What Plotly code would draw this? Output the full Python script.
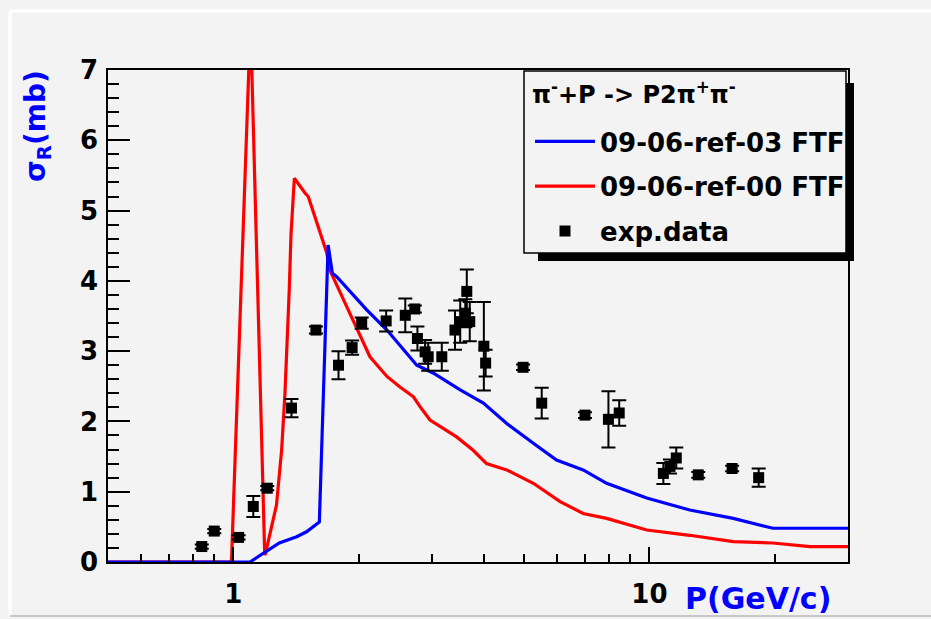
import plotly.graph_objects as go

# ---------------- data ----------------
red_x = [0.5, 0.99, 1.10, 1.19, 1.195, 1.27, 1.307, 1.331, 1.348, 1.363, 1.376, 1.402,
         1.487, 1.514, 1.61, 1.677, 1.707, 1.908, 2.13, 2.34, 2.515, 2.71, 2.81, 2.97,
         3.44, 3.77, 4.06, 4.54, 5.26, 6.1, 6.93, 7.89, 9.85, 12.5, 15.9, 19.8, 24.3, 30.0]
red_y = [0.0, 0.0, 7.7, 0.1, 0.12, 0.81, 1.6, 2.4, 3.1, 3.87, 4.65, 5.46,
         5.25, 5.2, 4.72, 4.4, 4.15, 3.54, 2.92, 2.64, 2.49, 2.35, 2.21, 2.02,
         1.78, 1.59, 1.40, 1.31, 1.12, 0.86, 0.69, 0.62, 0.455, 0.38, 0.29, 0.27, 0.22, 0.22]

blue_x = [0.5, 1.097, 1.29, 1.42, 1.50, 1.61, 1.69, 1.73, 1.772, 2.09, 2.34, 2.76, 3.02,
          3.51, 3.99, 4.54, 5.26, 5.98, 6.93, 7.89, 9.85, 12.5, 15.9, 19.8, 30.0]
blue_y = [0.0, 0.0, 0.27, 0.36, 0.43, 0.57, 4.51, 4.11, 4.06, 3.59, 3.30, 2.80, 2.69,
          2.45, 2.26, 1.97, 1.69, 1.45, 1.31, 1.12, 0.91, 0.74, 0.62, 0.48, 0.48]

exp_x = [0.84, 0.90, 1.03, 1.117, 1.207, 1.38, 1.58, 1.79, 1.93, 2.035, 2.33, 2.59, 2.73,
         2.77, 2.89, 2.94, 3.17, 3.41, 3.51, 3.61, 3.64, 3.70, 4.00, 4.04, 4.97, 5.51,
         7.0, 7.97, 8.46, 10.8, 11.2, 11.6, 13.1, 15.8, 18.3]
exp_y = [0.22, 0.44, 0.35, 0.79, 1.05, 2.19, 3.30, 2.80, 3.05, 3.40, 3.43, 3.51, 3.60,
         3.18, 2.99, 2.92, 2.92, 3.30, 3.42, 3.54, 3.85, 3.42, 3.07, 2.83, 2.77, 2.26,
         2.09, 2.03, 2.12, 1.26, 1.36, 1.48, 1.24, 1.33, 1.20]
exp_err = [0.03, 0.03, 0.03, 0.15, 0.03, 0.13, 0.05, 0.2, 0.1, 0.08, 0.15, 0.24, 0.05,
           0.17, 0.17, 0.2, 0.2, 0.28, 0.3, 0.2, 0.31, 0.28, 0.63, 0.19, 0.04, 0.22,
           0.04, 0.4, 0.18, 0.15, 0.1, 0.15, 0.04, 0.04, 0.13]

x_major_ticks = [1, 10]
x_major_labels = ["1", "10"]
x_minor_ticks = [0.6, 0.7, 0.8, 0.9, 2, 3, 4, 5, 6, 7, 8, 9, 20, 30]

legend_header = "<b>π<sup>-</sup>+P -> P2π<sup>+</sup>π<sup>-</sup></b>"

# ---------------- figure ----------------
BG = "#f3f3f3"
FONT = "DejaVu Sans"
W, H = 931, 619
L, R, T, B = 108, 83, 70, 57
PW, PH = W - L - R, H - T - B


def px2paper(px, py):
    return (px - L) / PW, (H - B - py) / PH


fig = go.Figure()
fig.add_trace(go.Scatter(x=red_x, y=red_y, mode="lines", name="<b>09-06-ref-00 FTF</b>",
                         line=dict(color="#ff0000", width=3.2), legendrank=2, legendgroup="r"))
fig.add_trace(go.Scatter(x=blue_x, y=blue_y, mode="lines", name="<b>09-06-ref-03 FTF</b>",
                         line=dict(color="#0000ff", width=3.2), legendrank=1, legendgroup="b"))
fig.add_trace(go.Scatter(x=exp_x, y=exp_y, mode="markers", name="<b>exp.data</b>",
                         marker=dict(symbol="square", size=11, color="black"),
                         error_y=dict(type="data", array=exp_err, visible=True,
                                      color="black", thickness=2, width=7),
                         legendrank=3, legendgroup="e"))

axis_common = dict(showline=True, linecolor="black", linewidth=1.5, mirror=True,
                   showgrid=False, zeroline=False, ticks="inside", tickcolor="black",
                   tickwidth=1.5, automargin=False,
                   tickfont=dict(family=FONT, size=26, color="black", weight="bold"))

fig.update_xaxes(type="log", range=[-0.30103, 1.4771], tickvals=x_major_ticks,
                 ticktext=x_major_labels, ticklen=15, ticklabelstandoff=8,
                 minor=dict(tickvals=x_minor_ticks, ticks="inside", ticklen=8,
                            tickcolor="black", tickwidth=1.5),
                 **axis_common)
fig.update_yaxes(range=[0, 7], dtick=1, ticklen=22, ticklabelstandoff=3,
                 minor=dict(dtick=0.2, ticks="inside", ticklen=11,
                            tickcolor="black", tickwidth=1.5),
                 **axis_common)

lx, ly = px2paper(530, 118)
fig.update_layout(
    width=W, height=H,
    margin=dict(l=L, r=R, t=T, b=B),
    paper_bgcolor=BG, plot_bgcolor=BG,
    font=dict(family=FONT, size=26, color="black"),
    showlegend=True,
    legend=dict(x=lx, y=ly, xanchor="left", yanchor="top", bgcolor="rgba(0,0,0,0)",
                borderwidth=0, tracegroupgap=8, itemwidth=60,
                font=dict(family=FONT, size=26, color="black", weight="bold")),
)

# legend shadow and box
s0x, s0y = px2paper(538, 83)
s1x, s1y = px2paper(854, 261)
fig.add_shape(type="rect", xref="paper", yref="paper", x0=s0x, y0=s1y, x1=s1x, y1=s0y,
              fillcolor="black", line=dict(width=0), layer="above")
b0x, b0y = px2paper(524, 71)
b1x, b1y = px2paper(846, 253)
fig.add_shape(type="rect", xref="paper", yref="paper", x0=b0x, y0=b1y, x1=b1x, y1=b0y,
              fillcolor=BG, line=dict(color="black", width=1.5), layer="above")
hx, hy = px2paper(530, 93)
fig.add_annotation(xref="paper", yref="paper", x=hx, y=hy, xanchor="left", yanchor="middle",
                   text=legend_header, showarrow=False,
                   font=dict(family=FONT, size=24, color="black"))

# axis titles
tx, ty = px2paper(833, 598)
fig.add_annotation(xref="paper", yref="paper", x=tx, y=ty, xanchor="right", yanchor="middle",
                   text="<b>P(GeV/c)</b>", showarrow=False,
                   font=dict(family=FONT, size=30, color="#0000ff"))
yx, yy = px2paper(38, 68)
fig.add_annotation(xref="paper", yref="paper", x=yx, y=yy, xanchor="center", yanchor="top",
                   text="<b>σ<sub>R</sub>(mb)</b>", textangle=-90, showarrow=False,
                   font=dict(family=FONT, size=28, color="#0000ff"))

# canvas border lines
c0x, c0y = px2paper(10, 11)
c1x, c1y = px2paper(931, 616)
fig.add_shape(type="line", xref="paper", yref="paper", x0=c0x, y0=c0y, x1=c1x, y1=c0y,
              line=dict(color="white", width=3), layer="below")
fig.add_shape(type="line", xref="paper", yref="paper", x0=c0x, y0=c0y, x1=c0x, y1=c1y,
              line=dict(color="white", width=3), layer="below")
fig.add_shape(type="line", xref="paper", yref="paper", x0=c0x, y0=c1y, x1=c1x, y1=c1y,
              line=dict(color="#c8c8c8", width=2), layer="below")

fig.write_html("out.html")
